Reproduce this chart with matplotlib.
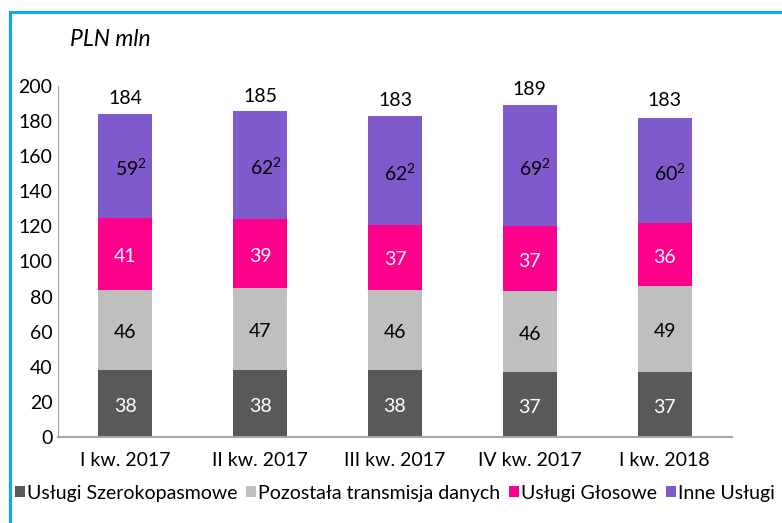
import matplotlib
matplotlib.use("Agg")
import matplotlib.pyplot as plt
from matplotlib.patches import Patch
from matplotlib.lines import Line2D
import numpy as np

plt.rcParams['font.family'] = ['Lato', 'DejaVu Sans']
plt.rcParams['mathtext.fontset'] = 'custom'
plt.rcParams['mathtext.rm'] = 'Lato'
plt.rcParams['mathtext.it'] = 'Lato:italic'

categories = ["I kw. 2017", "II kw. 2017", "III kw. 2017", "IV kw. 2017", "I kw. 2018"]
series_names = ["Usługi Szerokopasmowe", "Pozostała transmisja danych", "Usługi Głosowe", "Inne Usługi"]
broadband = [38, 38, 38, 37, 37]
data_other = [46, 47, 46, 46, 49]
voice = [41, 39, 37, 37, 36]
other = [59, 62, 62, 69, 60]
totals = [184, 185, 183, 189, 183]
yticks = [0, 20, 40, 60, 80, 100, 120, 140, 160, 180, 200]

colors = ["#595959", "#BFBFBF", "#FF008C", "#7F5ACC"]
label_colors = ["white", "black", "white", "black"]
series = [broadband, data_other, voice, other]

FS = 14

fig = plt.figure(figsize=(7.82, 5.23), dpi=100)
ax = fig.add_axes([58/782, 1-437/523, 674/782, 351/523])

x = np.arange(len(categories))
bottom = np.zeros(len(categories))
for vals, col, lc, name in zip(series, colors, label_colors, series_names):
    vals = np.array(vals, dtype=float)
    ax.bar(x, vals, bottom=bottom, width=0.4, color=col, label=name, zorder=2)
    for xi, v, b in zip(x, vals, bottom):
        txt = f"{int(v)}"
        dx = 0.0
        if name == "Inne Usługi":
            txt = f"{int(v)}$^{{\\mathrm{{2}}}}$"
            dx = 0.04
        ax.text(xi + dx, b + v / 2 - 1.5, txt, ha='center', va='center', color=lc, fontsize=FS)
    bottom += vals

for xi, t in zip(x, totals):
    ax.text(xi, t + 4, str(t), ha='center', va='bottom', color='black', fontsize=FS)

ax.set_xlim(-0.5, len(categories) - 0.5)
ax.set_ylim(0, 200)
ax.set_yticks(yticks)
ax.set_yticklabels([str(v) for v in yticks], fontsize=FS)
ax.set_xticks(x)
ax.set_xticklabels(categories, fontsize=FS)
ax.tick_params(axis='both', length=0)
ax.tick_params(axis='y', pad=4)
ax.tick_params(axis='x', pad=11)
for s in ['top', 'right']:
    ax.spines[s].set_visible(False)
ax.spines['left'].set_color('#A6A6A6')
ax.spines['left'].set_linewidth(0.8)
ax.spines['bottom'].set_color('#A6A6A6')
ax.spines['bottom'].set_linewidth(1.5)

fig.text(70/782, 1-39/523, "PLN mln", fontsize=16.5, style='italic', ha='left', va='center')

handles = [Patch(facecolor=c, edgecolor='none') for c in colors]
fig.legend(handles, series_names, loc='center left', bbox_to_anchor=(15/782, 1-493/523),
           ncol=4, frameon=False, fontsize=FS, handlelength=0.5, handleheight=0.5,
           handletextpad=0.12, columnspacing=0.45, borderaxespad=0, borderpad=0)

# light blue frame (top and left edges visible)
fig.add_artist(Line2D([9.5/782, 1.0], [1-11.5/523, 1-11.5/523], transform=fig.transFigure,
                      color='#00B0F0', linewidth=2.2))
fig.add_artist(Line2D([9.5/782, 9.5/782], [0.0, 1-11.5/523], transform=fig.transFigure,
                      color='#00B0F0', linewidth=2.2))

fig.savefig("out.png", dpi=100)
